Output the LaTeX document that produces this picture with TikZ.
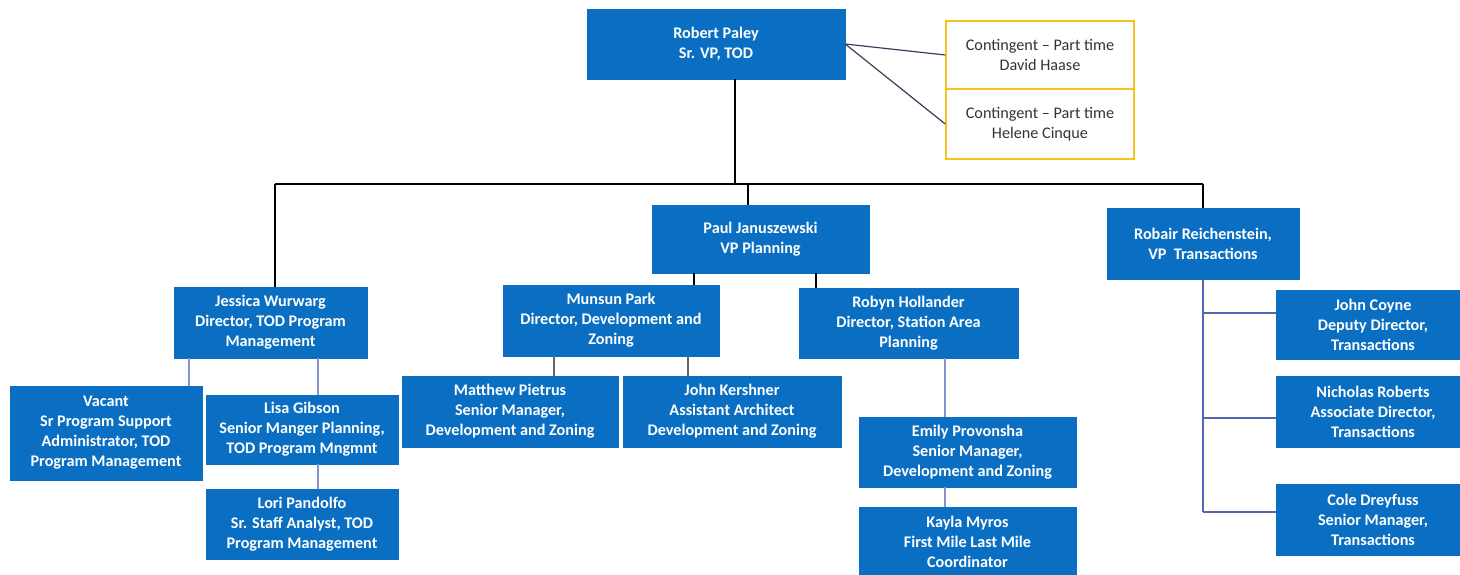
\documentclass[tikz,border=0pt]{standalone}
\usepackage{fontspec}
\setmainfont{Carlito}
\definecolor{orgblue}{HTML}{0A6FC2}
\definecolor{orgyellow}{HTML}{F8C41C}
\definecolor{linkgrey}{HTML}{3E3E5C}
\definecolor{linkblue}{HTML}{5565B5}
\definecolor{linklight}{HTML}{8595CC}

\begin{document}
\begin{tikzpicture}
          [x=1pt,y=-1pt,
           box/.style={draw=orgblue,fill=orgblue,text=white,inner sep=0pt,align=center,
                       font=\fontsize{16.2}{20}\selectfont\bfseries},
           cont/.style={draw=orgyellow,line width=1.5pt,fill=white,text=black!80,inner sep=0pt,
                       align=center,minimum width=188pt,font=\fontsize{16.2}{20}\selectfont},
           top/.style={draw=black,line width=1.4pt},
           sub/.style={draw=linklight,line width=1.3pt}]

          \useasboundingbox (0, 0) rectangle (1460, 574);

          \node[box,minimum width=258pt,minimum height=70pt] (paley) at (716, 44) {Robert Paley\\Sr. VP, TOD};
          \node[cont,minimum height=68pt] (cont1) at (1040, 55) {Contingent -- Part time\\David Haase};
          \node[cont,minimum height=70pt] (cont2) at (1040, 124) {Contingent -- Part time\\Helene Cinque};

          \node[box,minimum width=217pt,minimum height=68pt] (paul) at (760.5, 239) {Paul Januszewski\\VP Planning};
          \node[box,minimum width=192pt,minimum height=71pt] (robair) at (1203, 243.5) {Robair Reichenstein,\\VP~ Transactions};
          \node[box,minimum width=193pt,minimum height=71pt] (jessica) at (270.5, 322.5) {Jessica Wurwarg\\Director, TOD Program\\Management};
          \node[box,minimum width=216pt,minimum height=71pt] (munsun) at (611, 320.5) {Munsun Park\\Director, Development and\\Zoning};
          \node[box,minimum width=219pt,minimum height=70pt] (robyn) at (908.5, 323) {Robyn Hollander\\Director, Station Area\\Planning};

          \node[box,minimum width=192pt,minimum height=94pt] (vacant) at (106, 433) {Vacant\\Sr Program Support\\Administrator, TOD\\Program Management};
          \node[box,minimum width=192pt,minimum height=69pt] (lisa) at (302, 429.5) {Lisa Gibson\\Senior Manger Planning,\\TOD Program Mngmnt};
          \node[box,minimum width=192pt,minimum height=70pt] (lori) at (302, 524) {Lori Pandolfo\\Sr. Staff Analyst, TOD\\Program Management};
          \node[box,minimum width=216pt,minimum height=71pt] (matthew) at (510, 411.5) {Matthew Pietrus\\Senior Manager,\\Development and Zoning};
          \node[box,minimum width=218pt,minimum height=71pt] (kershner) at (732, 411.5) {John Kershner\\Assistant Architect\\Development and Zoning};
          \node[box,minimum width=217pt,minimum height=70pt] (emily) at (967.5, 452) {Emily Provonsha\\Senior Manager,\\Development and Zoning};
          \node[box,minimum width=217pt,minimum height=70pt] (kayla) at (967.5, 542) {Kayla Myros\\First Mile Last Mile\\Coordinator};
          \node[box,minimum width=194pt,minimum height=69pt] (coyne) at (1373, 324.5) {John Coyne\\Deputy Director,\\Transactions};
          \node[box,minimum width=194pt,minimum height=71pt] (nicholas) at (1373, 411.5) {Nicholas Roberts\\Associate Director,\\Transactions};
          \node[box,minimum width=194pt,minimum height=71pt] (cole) at (1373, 519.5) {Cole Dreyfuss\\Senior Manager,\\Transactions};

          \coordinate (busL) at (275, 184);
          \coordinate (busM) at (735, 184);
          \coordinate (busP) at (748, 184);
          \coordinate (busR) at (1203, 184);

          \draw[linkgrey,line width=1.2pt] (paley.east) -- (cont1.west);
          \draw[linkgrey,line width=1.2pt] (paley.east) -- (cont2.west);

          \draw[top] (paley.south -| busM) -- (busM);
          \draw[top] (busL) -- (busR);
          \draw[top] (busL) -- (busL |- jessica.north);
          \draw[top] (busP) -- (busP |- paul.north);
          \draw[top] (busR) -- (robair.north);
          \draw[top] (paul.south -| 694,0) -- (munsun.north -| 694,0);
          \draw[top] (paul.south -| 816,0) -- (robyn.north -| 816,0);

          \draw[sub] (jessica.south -| 189,0) -- (vacant.north -| 189,0);
          \draw[sub] (jessica.south -| 318,0) -- (lisa.north -| 318,0);
          \draw[sub] (lisa.south -| 318,0) -- (lori.north -| 318,0);
          \draw[sub,draw=black!60] (munsun.south -| 554,0) -- (matthew.north -| 554,0);
          \draw[sub,draw=black!60] (munsun.south -| 688,0) -- (kershner.north -| 688,0);
          \draw[sub] (robyn.south -| 945,0) -- (emily.north -| 945,0);
          \draw[sub] (emily.south -| 945,0) -- (kayla.north -| 945,0);

          \draw[sub,draw=linkblue] (robair.south) -- (robair.south |- 0,512);
          \draw[sub,draw=linkblue] (robair.south |- 0,313) -- (coyne.west |- 0,313);
          \draw[sub,draw=linkblue] (robair.south |- 0,418) -- (nicholas.west |- 0,418);
          \draw[sub,draw=linkblue] (robair.south |- 0,512) -- (cole.west |- 0,512);
        \end{tikzpicture}
\end{document}
